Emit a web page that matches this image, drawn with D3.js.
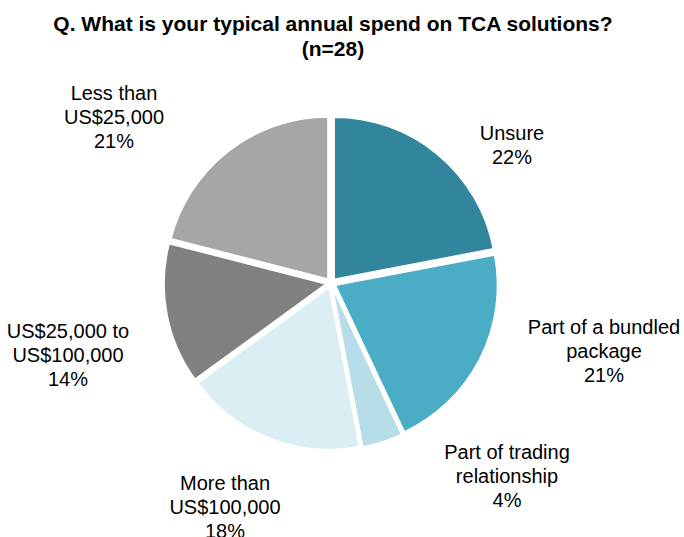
<!DOCTYPE html>
<html>
<head>
<meta charset="utf-8">
<script src="https://cdn.jsdelivr.net/npm/d3@7"></script>
<style>
  body { margin: 0; background: #fff; }
  text { font-family: Arial, "Liberation Sans", sans-serif; fill: #000; }
</style>
</head>
<body>
<svg id="chart" width="684" height="537"></svg>
<script>
// survey answers, clockwise from 12 o'clock
const categories = [
  ['Unsure'],
  ['Part of a bundled', 'package'],
  ['Part of trading', 'relationship'],
  ['More than', 'US$100,000'],
  ['US$25,000 to', 'US$100,000'],
  ['Less than', 'US$25,000']
];
const shares = [22, 21, 4, 18, 14, 21];
const colours = ['#31859c', '#4bacc6', '#b7dde8', '#daeef3', '#808080', '#a6a6a6'];

const titleLines = ['Q. What is your typical annual spend on TCA solutions?', '(n=28)'];

const width = 684, height = 537;
const cx = 331, cy = 283, radius = 162, explode = 5;

// label anchors (centre x, first baseline) - hand placed like excel's best fit
const labelAnchors = [[512, 140], [604, 334], [507, 459], [225, 490], [68, 338], [114, 100]];
const lineHeight = 24;

const svg = d3.select('#chart');

/// title
svg.append('g').selectAll('text')
  .data(titleLines)
  .enter().append('text')
  .attr('x', 333)
  .attr('y', (d, i) => 31 + i * 25)
  .attr('text-anchor', 'middle')
  .style('font-size', '21px')
  .style('font-weight', 'bold')
  .text(d => d);

const data = shares.map((v, i) => ({ name: categories[i], value: v, colour: colours[i] }));

const pie = d3.pie().sort(null).value(d => d.value);
const arc = d3.arc().innerRadius(0).outerRadius(radius);

const slices = svg.append('g')
  .attr('transform', `translate(${cx},${cy})`)
  .selectAll('path')
  .data(pie(data))
  .enter().append('path')
  .attr('d', arc)
  .attr('fill', d => d.data.colour)
  .attr('stroke', '#fff')
  .attr('stroke-width', 1.5)
  .attr('transform', function(d) {
    /// push every slice out a little along its middle angle
    let mid = (d.startAngle + d.endAngle) / 2;
    return `translate(${Math.sin(mid) * explode},${-Math.cos(mid) * explode})`;
  });

/// labels
const labels = svg.append('g').selectAll('text')
  .data(data)
  .enter().append('text')
  .attr('text-anchor', 'middle')
  .style('font-size', '20px');

labels.each(function(d, i) {
  let lines = d.name.concat([d.value + '%']);
  d3.select(this).selectAll('tspan')
    .data(lines)
    .enter().append('tspan')
    .attr('x', labelAnchors[i][0])
    .attr('y', (l, j) => labelAnchors[i][1] + j * lineHeight)
    .text(l => l);
});
</script>
</body>
</html>
